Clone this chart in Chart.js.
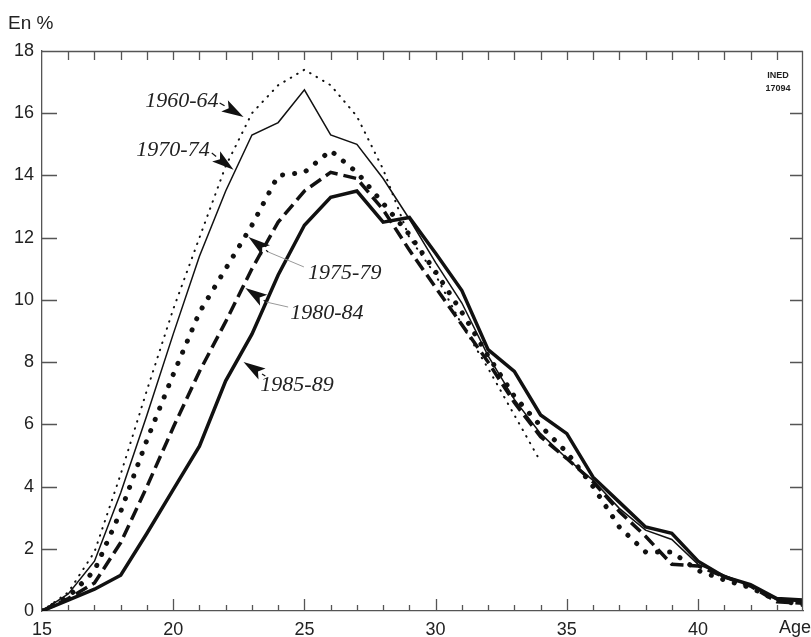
<!DOCTYPE html>
<html>
<head>
<meta charset="utf-8">
<script src="https://cdn.jsdelivr.net/npm/chart.js@4.4.0/dist/chart.umd.min.js"></script>
<style>
  body { margin: 0; background: #fff; }
  #chart { display: block; }
</style>
</head>
<body>
<canvas id="chart" width="811" height="637"></canvas>
<script>
const ages = [15, 16, 17, 18, 19, 20, 21, 22, 23, 24, 25, 26, 27, 28, 29,
  30, 31, 32, 33, 34, 35, 36, 37, 38, 39, 40, 41, 42, 43, 44];

const p1960 = [0, 0.6, 1.9, 4.4, 7.1, 9.7, 12.0, 14.3, 16.0, 16.9, 17.4, 16.9, 15.9, 14.2, 12.0,
  10.8, 9.2, 7.8, 6.3, 4.8, null, null, null, null, null, null, null, null, null, null];
const p1970 = [0, 0.55, 1.6, 3.8, 6.3, 8.9, 11.4, 13.5, 15.3, 15.7, 16.75, 15.3, 15.0, 13.9, 12.6,
  11.2, 9.9, 8.2, 6.8, 5.7, 4.9, 4.2, 3.3, 2.6, 2.3, 1.5, 1.15, 0.8, 0.35, 0.3];
const p1975 = [0, 0.45, 1.3, 3.2, 5.5, 7.6, 9.6, 11.0, 12.4, 14.0, 14.1, 14.8, 14.1, 13.1, 12.1,
  10.9, 9.6, 8.2, 6.9, 5.95, 5.1, 4.0, 2.7, 1.9, 1.9, 1.3, 1.0, 0.75, 0.35, 0.2];
const p1980 = [0, 0.4, 0.9, 2.2, 4.0, 5.9, 7.7, 9.3, 11.0, 12.5, 13.5, 14.1, 13.9, 12.9, 11.6,
  10.4, 9.2, 8.0, 6.7, 5.6, 4.9, 4.15, 3.2, 2.4, 1.5, 1.45, 1.1, 0.8, 0.3, 0.25];
const p1985 = [0, 0.35, 0.7, 1.15, 2.5, 3.9, 5.3, 7.4, 8.9, 10.8, 12.4, 13.3, 13.5, 12.5, 12.65,
  11.5, 10.3, 8.4, 7.7, 6.3, 5.7, 4.3, 3.5, 2.7, 2.5, 1.6, 1.1, 0.85, 0.4, 0.35];

const xTickLabels = [15, 20, 25, 30, 35, 40];
const yTickValues = [0, 2, 4, 6, 8, 10, 12, 14, 16, 18];

// period labels with their arrows, in data units (age, %)
const notes = [
  { text: "1960-64", at: [21.73, 16.39], align: "right", from: [21.77, 16.33], to: [22.68, 15.88] },
  { text: "1970-74", at: [21.39, 14.82], align: "right", from: [21.47, 14.72], to: [22.30, 14.18] },
  { text: "1975-79", at: [25.14, 10.86], align: "left", from: [23.62, 11.54], to: [22.87, 12.02],
    lead: [[24.98, 11.06], [23.62, 11.54]] },
  { text: "1980-84", at: [24.46, 9.58], align: "left", from: [23.55, 9.93], to: [22.75, 10.38],
    lead: [[24.38, 9.77], [23.55, 9.93]] },
  { text: "1985-89", at: [23.32, 7.26], align: "left", from: [23.51, 7.55], to: [22.68, 8.0] },
];

function pts(values) {
  return ages.map((a, i) => ({ x: a, y: values[i] }));
}

const INK = "#111";
const AXIS = "#555";

const framePlugin = {
  id: "frame",
  afterDraw(chart) {
    const { ctx, chartArea: ca, scales } = chart;
    const xs = scales.x, ys = scales.y;
    ctx.save();
    ctx.setLineDash([]);
    ctx.lineCap = "butt";
    ctx.lineJoin = "miter";
    ctx.strokeStyle = AXIS;
    ctx.lineWidth = 1.3;
    ctx.beginPath();
    ctx.moveTo(ca.left, ca.top + 0.5);
    ctx.lineTo(ca.right, ca.top + 0.5);
    ctx.moveTo(ca.right - 0.5, ca.top);
    ctx.lineTo(ca.right - 0.5, ca.bottom);
    ctx.stroke();

    // year ticks, inside the frame
    ctx.beginPath();
    for (let a = 16; a <= 43; a++) {
      const px = Math.round(xs.getPixelForValue(a)) + 0.5;
      const len = a % 5 === 0 ? 12 : 6;
      ctx.moveTo(px, ca.bottom);
      ctx.lineTo(px, ca.bottom - len);
      ctx.moveTo(px, ca.top);
      ctx.lineTo(px, ca.top + 9);
    }
    for (let v = 2; v <= 16; v += 2) {
      const py = Math.round(ys.getPixelForValue(v)) + 0.5;
      ctx.moveTo(ca.left, py);
      ctx.lineTo(ca.left + 15, py);
      ctx.moveTo(ca.right, py);
      ctx.lineTo(ca.right - 13, py);
    }
    ctx.stroke();

    ctx.fillStyle = "#222";
    ctx.font = "19px 'Liberation Sans', Arial, sans-serif";
    ctx.textAlign = "left";
    ctx.textBaseline = "middle";
    ctx.fillText("En %", 8, 24);
    ctx.font = "18px 'Liberation Sans', Arial, sans-serif";
    ctx.textAlign = "right";
    ctx.textBaseline = "top";
    ctx.fillText("Age", chart.width, ca.bottom + 8);

    ctx.font = "bold 9px 'Liberation Sans', Arial, sans-serif";
    ctx.textAlign = "center";
    ctx.textBaseline = "middle";
    ctx.fillText("INED", xs.getPixelForValue(43.05), ys.getPixelForValue(17.2));
    ctx.fillText("17094", xs.getPixelForValue(43.05), ys.getPixelForValue(16.8));

    const P = (p) => [xs.getPixelForValue(p[0]), ys.getPixelForValue(p[1])];
    notes.forEach((n) => {
      if (n.lead) {
        const a = P(n.lead[0]), b = P(n.lead[1]);
        ctx.strokeStyle = "#999";
        ctx.lineWidth = 1;
        ctx.beginPath();
        ctx.moveTo(a[0], a[1]);
        ctx.lineTo(b[0], b[1]);
        ctx.stroke();
      }
      const f = P(n.from), t = P(n.to);
      const dx = t[0] - f[0], dy = t[1] - f[1];
      const len = Math.hypot(dx, dy);
      const ux = dx / len, uy = dy / len;
      const L = 22, W = 6.5;
      const bx = t[0] - ux * L, by = t[1] - uy * L;
      if (len > L) {
        ctx.strokeStyle = INK;
        ctx.lineWidth = 1.2;
        ctx.beginPath();
        ctx.moveTo(f[0], f[1]);
        ctx.lineTo(bx, by);
        ctx.stroke();
      }
      ctx.fillStyle = INK;
      ctx.beginPath();
      ctx.moveTo(t[0], t[1]);
      ctx.lineTo(bx - uy * W, by + ux * W);
      ctx.lineTo(t[0] - ux * L * 0.78, t[1] - uy * L * 0.78);
      ctx.lineTo(bx + uy * W, by - ux * W);
      ctx.closePath();
      ctx.fill();

      const tp = P(n.at);
      ctx.fillStyle = "#222";
      ctx.font = "italic 22px 'Liberation Serif', 'Times New Roman', serif";
      ctx.textAlign = n.align;
      ctx.textBaseline = "middle";
      ctx.fillText(n.text, tp[0], tp[1]);
    });
    ctx.restore();
  },
};

new Chart(document.getElementById("chart"), {
  type: "line",
  data: {
    datasets: [
      {
        label: "1960-64",
        data: pts(p1960),
        borderColor: INK,
        borderWidth: 2,
        borderDash: [0.5, 7],
        borderCapStyle: "round",
      },
      {
        label: "1970-74",
        data: pts(p1970),
        borderColor: INK,
        borderWidth: 1.5,
      },
      {
        label: "1975-79",
        data: pts(p1975),
        borderColor: INK,
        borderWidth: 5,
        borderDash: [0.1, 12],
        borderCapStyle: "round",
      },
      {
        label: "1980-84",
        data: pts(p1980),
        borderColor: INK,
        borderWidth: 3.5,
        borderDash: [13, 6],
      },
      {
        label: "1985-89",
        data: pts(p1985),
        borderColor: INK,
        borderWidth: 3.5,
      },
    ],
  },
  options: {
    responsive: false,
    animation: false,
    spanGaps: false,
    elements: {
      point: { radius: 0 },
      line: { tension: 0, fill: false },
    },
    layout: { padding: { top: 51, right: 2, left: 0, bottom: 0 } },
    scales: {
      x: {
        type: "linear",
        min: 15,
        max: 44,
        grid: { display: false, drawTicks: false },
        border: { display: true, color: AXIS, width: 1.3 },
        afterFit: (scale) => { scale.height = 26; },
        ticks: {
          stepSize: 5,
          autoSkip: false,
          maxRotation: 0,
          padding: 8,
          color: "#222",
          font: { family: "'Liberation Sans', Arial, sans-serif", size: 18 },
          callback: (v) => (xTickLabels.includes(v) ? String(v) : ""),
        },
      },
      y: {
        min: 0,
        max: 18,
        grid: { display: false, drawTicks: false },
        border: { display: true, color: AXIS, width: 1.3 },
        afterFit: (scale) => { scale.width = 42; },
        ticks: {
          stepSize: 2,
          padding: 8,
          color: "#222",
          font: { family: "'Liberation Sans', Arial, sans-serif", size: 18 },
          callback: (v) => (yTickValues.includes(v) ? String(v) : ""),
        },
      },
    },
    plugins: {
      legend: { display: false },
      tooltip: { enabled: false },
    },
  },
  plugins: [framePlugin],
});
</script>
</body>
</html>
